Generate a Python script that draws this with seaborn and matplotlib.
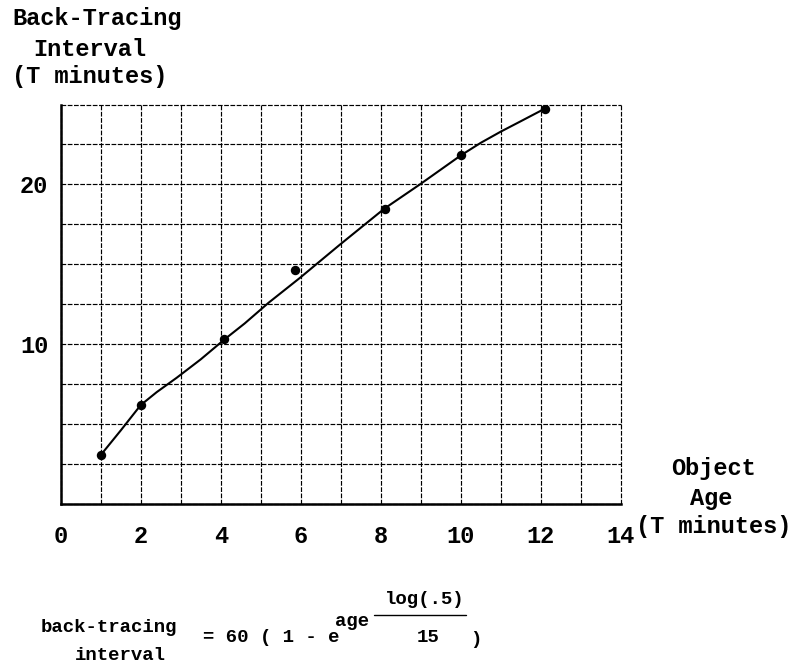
import matplotlib
matplotlib.use("Agg")
import matplotlib.pyplot as plt
from matplotlib.lines import Line2D
import seaborn as sns
import pandas as pd

# ---- data ----
point_age = [1.0, 2.0, 4.09, 5.85, 8.1, 10.0, 12.1]
point_interval = [3.06, 6.19, 10.3, 14.67, 18.47, 21.81, 24.71]

curve_age = [1.0, 1.5, 2.0, 2.4, 2.9, 3.5, 4.09, 4.6, 5.2, 5.98, 6.98,
             8.09, 8.98, 10.0, 10.5, 11.0, 11.5, 12.08]
curve_interval = [3.06, 4.6, 6.19, 7.0, 7.9, 9.05, 10.29, 11.3, 12.6, 14.15, 16.23,
                  18.48, 20.0, 21.81, 22.6, 23.3, 23.95, 24.71]

x_ticks = list(range(0, 15))
x_tick_labels = ["0", "", "2", "", "4", "", "6", "", "8", "", "10", "", "12", "", "14"]
y_ticks = [0, 2.5, 5, 7.5, 10, 12.5, 15, 17.5, 20, 22.5, 25]
y_tick_labels = ["", "", "", "", "10", "", "", "", "20", "", ""]

sns.set_theme(style="white")
plt.rcParams["font.family"] = ["Liberation Mono", "DejaVu Sans Mono"]
plt.rcParams["font.weight"] = "bold"
plt.rcParams["lines.solid_joinstyle"] = "round"
plt.rcParams["lines.solid_capstyle"] = "round"

W, H = 798, 663
fig = plt.figure(figsize=(W / 100, H / 100), dpi=100)
fig.patch.set_facecolor("white")

def fx(px):
    return px / W

def fy(py):
    return 1 - py / H

ax = fig.add_axes([fx(60.7), fy(504), (620.7 - 60.7) / W, (504 - 104.5) / H])
ax.set_facecolor("white")

curve_df = pd.DataFrame({"age": curve_age, "interval": curve_interval})
pts_df = pd.DataFrame({"age": point_age, "interval": point_interval})

sns.lineplot(data=curve_df, x="age", y="interval", sort=False, estimator=None,
             color="black", linewidth=1.5, ax=ax, zorder=3)
sns.scatterplot(data=pts_df, x="age", y="interval", color="black", s=46,
                edgecolor="black", linewidth=0, ax=ax, zorder=4)

ax.set_xlim(0, 14)
ax.set_ylim(0, 25)
ax.set_xticks(x_ticks)
ax.set_xticklabels(x_tick_labels)
ax.set_yticks(y_ticks)
ax.set_yticklabels(y_tick_labels)
ax.set_xlabel("")
ax.set_ylabel("")

ax.grid(True, color="black", linewidth=0.85, linestyle=(0, (4, 1.3)))
ax.set_axisbelow(True)
for g in ax.get_xgridlines() + ax.get_ygridlines():
    g.set_clip_on(False)

for s in ["top", "right"]:
    ax.spines[s].set_visible(False)
for s in ["left", "bottom"]:
    ax.spines[s].set_color("black")
    ax.spines[s].set_linewidth(1.8)
    ax.spines[s].set_zorder(5)

ax.tick_params(axis="x", length=0, pad=15, labelsize=17, labelcolor="black")
ax.tick_params(axis="y", length=0, pad=9, labelsize=17, labelcolor="black")
for lab in ax.get_xticklabels() + ax.get_yticklabels():
    lab.set_fontweight("bold")

# axis titles
lab_kw = dict(fontsize=17, fontweight="bold", color="black", va="center")
fig.text(fx(12), fy(19), "Back-Tracing", ha="left", **lab_kw)
fig.text(fx(33), fy(49), "Interval", ha="left", **lab_kw)
fig.text(fx(12), fy(77), "(T minutes)", ha="left", **lab_kw)

fig.text(fx(713), fy(469), "Object", ha="center", **lab_kw)
fig.text(fx(711), fy(498), "Age", ha="center", **lab_kw)
fig.text(fx(714), fy(526), "(T minutes)", ha="center", **lab_kw)

# formula
fk = dict(fontsize=13.7, fontweight="bold", color="black", va="center", ha="left")
fig.text(fx(40.7), fy(627), "back-tracing", **fk)
fig.text(fx(75), fy(656), "interval", **fk)
fig.text(fx(203), fy(638), "= 60 ( 1 - e", **fk)
fig.text(fx(335), fy(621), "age", **fk)
fig.text(fx(385), fy(600), "log(.5)", **fk)
fig.text(fx(417), fy(638), "15", **fk)
fig.text(fx(470), fy(639), ")", **fk)
fig.add_artist(Line2D([fx(374), fx(466)], [fy(615), fy(615)], color="black",
                      linewidth=1.0, transform=fig.transFigure))

fig.savefig("out.png", dpi=100, facecolor="white")
